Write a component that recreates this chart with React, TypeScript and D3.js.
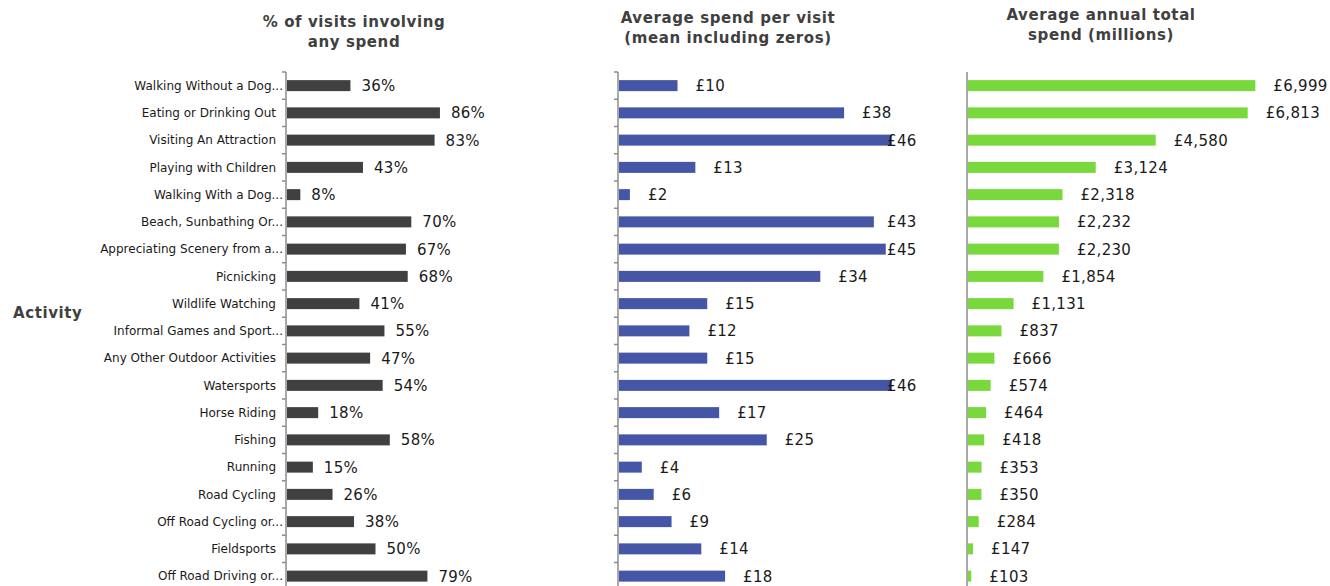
import * as d3 from 'd3';

// activities, top to bottom
const activities = [
  'Walking Without a Dog...',
  'Eating or Drinking Out',
  'Visiting An Attraction',
  'Playing with Children',
  'Walking With a Dog...',
  'Beach, Sunbathing Or...',
  'Appreciating Scenery from a...',
  'Picnicking',
  'Wildlife Watching',
  'Informal Games and Sport...',
  'Any Other Outdoor Activities',
  'Watersports',
  'Horse Riding',
  'Fishing',
  'Running',
  'Road Cycling',
  'Off Road Cycling or...',
  'Fieldsports',
  'Off Road Driving or...',
];

// % of visits involving any spend
const pctSpend = [36, 86, 83, 43, 8, 70, 67, 68, 41, 55, 47, 54, 18, 58, 15, 26, 38, 50, 79];
// average spend per visit (£)
const avgSpend = [10, 38, 46, 13, 2, 43, 45, 34, 15, 12, 15, 46, 17, 25, 4, 6, 9, 14, 18];
// average annual total spend (£ millions)
const totalSpend = [6999, 6813, 4580, 3124, 2318, 2232, 2230, 1854, 1131, 837, 666, 574, 464, 418, 353, 350, 284, 147, 103];

const width = 1330;
const height = 586;

const titleColor = '#404040';
const textColor = '#1a1a1a';
const axisColor = '#8c8c8c';

const yScale = d3.scaleBand<string>()
  .domain(activities)
  .range([72, 72 + activities.length * 27.25])
  .padding(0);

const barH = 11;

const fmtInt = d3.format(',');

const panels = [
  {
    key: 'pct',
    values: pctSpend,
    x: d3.scaleLinear().domain([0, 100]).range([286, 465]),
    color: '#404040',
    fmt: (v: number) => `${v}%`,
    gap: 11,
    maxRight: 2000,
    ticks: true,
    title: ['% of visits involving', 'any spend'],
    titleX: 354,
    titleY: 27,
  },
  {
    key: 'avg',
    values: avgSpend,
    x: d3.scaleLinear().domain([0, 50]).range([618, 915.5]),
    color: '#4556a6',
    fmt: (v: number) => `£${v}`,
    gap: 18,
    maxRight: 915,
    ticks: true,
    title: ['Average spend per visit', '(mean including zeros)'],
    titleX: 728,
    titleY: 23,
  },
  {
    key: 'total',
    values: totalSpend,
    x: d3.scaleLinear().domain([0, 7000]).range([967, 1255.4]),
    color: '#79d83b',
    fmt: (v: number) => `£${fmtInt(v)}`,
    gap: 18,
    maxRight: 2000,
    ticks: false,
    title: ['Average annual total', 'spend (millions)'],
    titleX: 1101,
    titleY: 20,
  },
];

// rough text width for clamping value labels (DejaVu Sans ~0.62em per glyph)
const labelWidth = (s: string) => s.length * 15 * 0.62;

export default function App() {
  const [y0, y1] = yScale.range();
  const boundaries = d3.range(activities.length + 1).map(i => y0 + i * yScale.step());

  return (
    <svg
      width={width}
      height={height}
      style={{ position: 'absolute', left: 0, top: 0, background: '#fff' }}
      fontFamily="'DejaVu Sans', Verdana, sans-serif"
    >
      {/* y axis title */}
      <text x={13} y={318} fontSize={15} fontWeight="bold" letterSpacing={0.6} fill={titleColor}>
        Activity
      </text>

      {/* category labels */}
      {activities.map(a => (
        <text
          key={a}
          x={a.endsWith('...') ? 283 : 276}
          y={(yScale(a) ?? 0) + yScale.bandwidth() / 2}
          dy="0.35em"
          textAnchor="end"
          fontSize={12}
          fill={textColor}
        >
          {a}
        </text>
      ))}

      {panels.map(p => {
        const x0 = p.x(0);
        return (
          <g key={p.key}>
            {/* panel title */}
            <text
              x={p.titleX}
              y={p.titleY}
              textAnchor="middle"
              fontSize={15}
              fontWeight="bold"
              letterSpacing={0.6}
              fill={titleColor}
            >
              <tspan x={p.titleX}>{p.title[0]}</tspan>
              <tspan x={p.titleX} dy={20}>{p.title[1]}</tspan>
            </text>

            {/* axis line */}
            <line x1={x0} x2={x0} y1={y0} y2={y1} stroke={axisColor} strokeWidth={1.5} />
            {p.ticks && boundaries.map((b, i) => (
              <line key={i} x1={x0 - 4} x2={x0} y1={b} y2={b} stroke={axisColor} strokeWidth={1.5} />
            ))}

            {/* bars */}
            {activities.map((a, i) => {
              const v = p.values[i];
              const cy = (yScale(a) ?? 0) + yScale.bandwidth() / 2;
              const end = p.x(v);
              const label = p.fmt(v);
              let lx = end + p.gap;
              if (lx + labelWidth(label) > p.maxRight) lx = p.maxRight - labelWidth(label);
              return (
                <g key={a}>
                  <rect x={x0 + 1} y={cy - barH / 2} width={Math.max(0, end - x0 - 1)} height={barH} fill={p.color} />
                  <text x={lx} y={cy} dy="0.36em" fontSize={15} letterSpacing={0.3} fill={textColor}>
                    {label}
                  </text>
                </g>
              );
            })}
          </g>
        );
      })}
    </svg>
  );
}
